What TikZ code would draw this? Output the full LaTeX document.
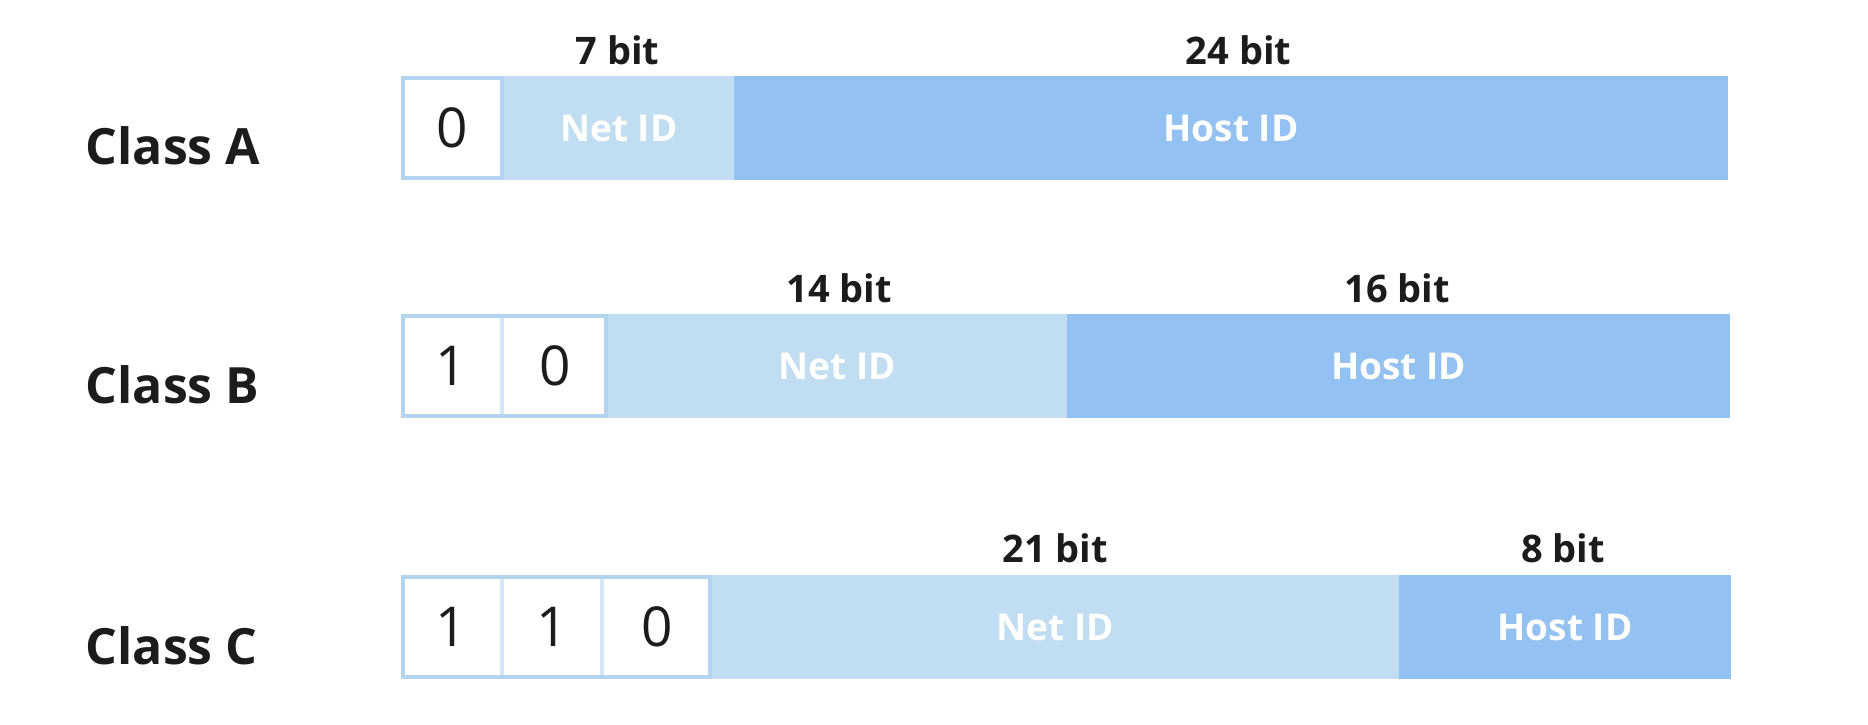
\documentclass[tikz,border=0pt]{standalone}
\usepackage{fontspec}
\setmainfont{Open Sans}
\definecolor{netc}{HTML}{C1DDF1}
\definecolor{hostc}{HTML}{93C1F1}
\definecolor{cellborder}{HTML}{B3D4EE}
\definecolor{celldiv}{HTML}{D4E7F7}
\definecolor{ink}{HTML}{1C1C1C}
\tikzset{
  seg/.style={anchor=north west, inner sep=0pt, outer sep=0pt, minimum height=104pt,
    text=white, font=\fontsize{37}{44}\selectfont\bfseries},
  netseg/.style={seg, fill=netc},
  hostseg/.style={seg, fill=hostc},
  bitcell/.style={anchor=north west, inner sep=0pt, outer sep=0pt, minimum height=104pt,
    fill=white, text=ink, font=\fontsize{55}{66}\selectfont},
  bitlabel/.style={anchor=base, inner sep=0pt, text=ink, font=\fontsize{38}{46}\selectfont\bfseries},
  classlabel/.style={anchor=base west, inner sep=0pt, text=ink, font=\fontsize{50}{60}\selectfont\bfseries},
  divline/.style={draw=celldiv, line width=4pt},
  outline/.style={draw=cellborder, line width=4pt},
}
\begin{document}
\begin{tikzpicture}[x=1pt,y=-1pt]
\useasboundingbox (0,0) rectangle (1868,724);
% Class labels
\node[classlabel] (clA) at (85.5,164) {Class A};
\node[classlabel] (clB) at (85.5,403) {Class B};
\node[classlabel] (clC) at (85.5,664) {Class C};
% Row A
\node[bitcell, minimum width=103pt] (a1) at (401,76) {0};
\node[netseg, minimum width=230pt] (aNet) at (504,76) {Net ID};
\node[hostseg, minimum width=994pt] (aHost) at (734,76) {Host ID};
\draw[outline] ([shift={(2pt,-2pt)}]a1.north west) rectangle ([shift={(-2pt,2pt)}]a1.south east);
\node[bitlabel] (aNetL) at (617.5,64) {7 bit};
\node[bitlabel] (aHostL) at (1238.5,64) {24 bit};
% Row B
\node[bitcell, minimum width=101pt] (b1) at (401,314) {1};
\node[bitcell, minimum width=106pt] (b2) at (502,314) {0};
\node[netseg, minimum width=460pt] (bNet) at (607.5,314) {Net ID};
\node[hostseg, minimum width=663pt] (bHost) at (1067,314) {Host ID};
\draw[divline] (b1.north east) -- (b1.south east);
\draw[outline] ([shift={(2pt,-2pt)}]b1.north west) rectangle ([shift={(-2pt,2pt)}]b2.south east);
\node[bitlabel] (bNetL) at (839,302.5) {14 bit};
\node[bitlabel] (bHostL) at (1397,302.5) {16 bit};
% Row C
\node[bitcell, minimum width=101pt] (c1) at (401,575) {1};
\node[bitcell, minimum width=100pt] (c2) at (502,575) {1};
\node[bitcell, minimum width=109.5pt] (c3) at (602,575) {0};
\node[netseg, minimum width=687.5pt] (cNet) at (711.5,575) {Net ID};
\node[hostseg, minimum width=332pt] (cHost) at (1399,575) {Host ID};
\draw[divline] (c1.north east) -- (c1.south east);
\draw[divline] (c2.north east) -- (c2.south east);
\draw[outline] ([shift={(2pt,-2pt)}]c1.north west) rectangle ([shift={(-2pt,2pt)}]c3.south east);
\node[bitlabel] (cNetL) at (1055,562.5) {21 bit};
\node[bitlabel] (cHostL) at (1563,562.5) {8 bit};
\end{tikzpicture}
\end{document}
